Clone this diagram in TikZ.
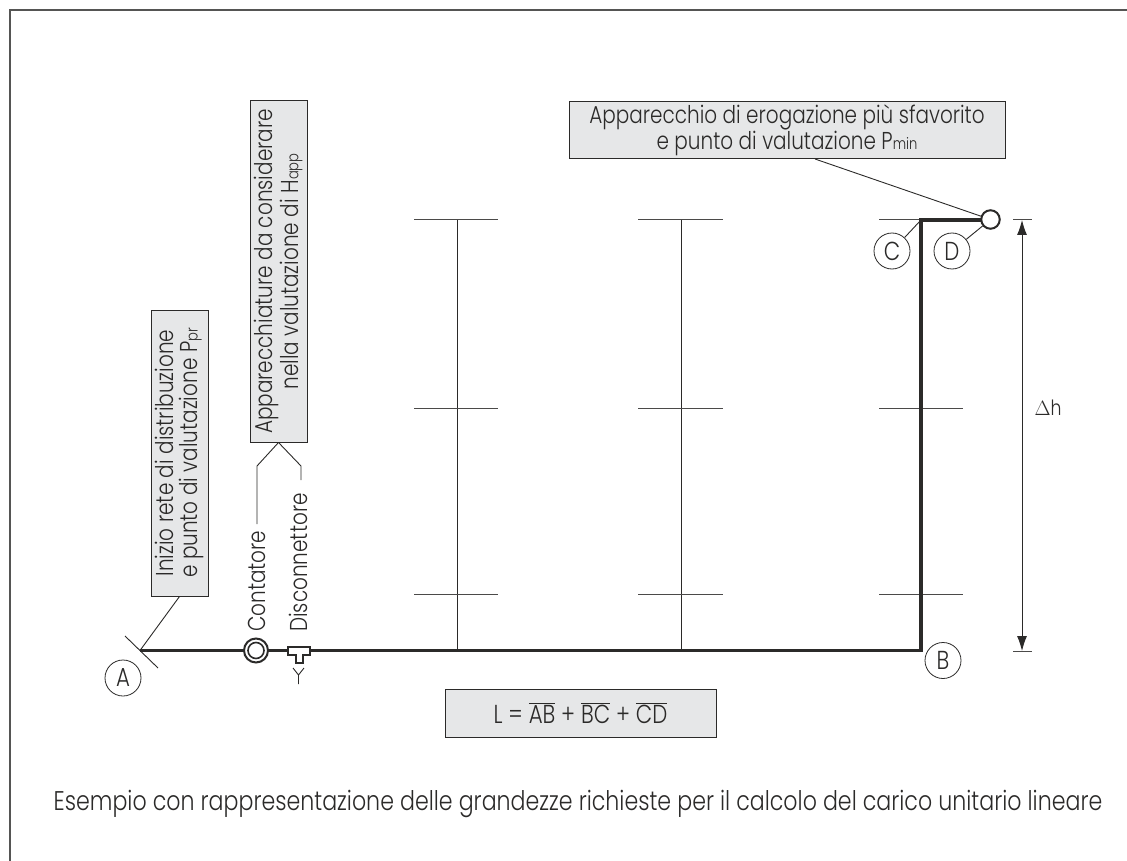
\documentclass[tikz,border=0pt]{standalone}
\usepackage{fontspec}
\setmainfont[FakeStretch=0.82]{Poppins Light}
\usetikzlibrary{arrows.meta}
\definecolor{boxgray}{HTML}{E6E7E8}
\definecolor{ink}{HTML}{2B2A29}
\tikzset{
  graybox/.style={draw=ink,line width=1pt,fill=boxgray,inner sep=0pt,align=center,font=\fontsize{24.4}{24}\selectfont,text=ink},
  thin line/.style={draw=ink,line width=0.9pt},
  mid line/.style={draw=ink!85,line width=1pt},
  pipe/.style={draw=ink,line width=3.4pt},
  letter/.style={draw=ink,circle,line width=0.8pt,minimum size=36pt,inner sep=0pt,font=\fontsize{26}{26}\selectfont,text=ink},
  label text/.style={text=ink,inner sep=0pt,font=\fontsize{24.4}{24}\selectfont,rotate=90,anchor=base west},
}
\newcommand{\lowtxt}[1]{{\fontsize{16}{16}\selectfont #1}}
\begin{document}
\begin{tikzpicture}[x=1pt,y=-1pt]
\useasboundingbox (0,0) rectangle (1127,861);
\draw[draw=ink!80,line width=1.5pt] (10,861) -- (10,10) -- (1127,10);
% coordinates
\coordinate (A0) at (140,650.5);
\coordinate (Bc) at (921,650.5);
\coordinate (Cc) at (921,220);
\coordinate (TA1) at (125,636);
\coordinate (TA2) at (158,668);
% verticals & branches
\foreach \x/\l/\r in {457/414/498,681/638/723}{
  \draw[thin line] (\x,220) -- (\x,650);
  \foreach \y in {220,408,594.5}{\draw[mid line] (\l,\y) -- (\r,\y);}
}
\foreach \y in {408,594.5}{\draw[mid line] (879,\y) -- (963,\y);}
\draw[mid line] (879,220) -- (921,220);
% pipe
\draw[pipe,line join=miter] (A0) -- (Bc) -- (Cc) -- (982,220);
\draw[thin line] (TA1) -- (TA2);
% contatore
\node[draw=ink,line width=2pt,circle,fill=white,minimum size=24pt,inner sep=0pt] (cont) at (256,650.5) {};
\node[draw=ink,line width=1.6pt,circle,fill=white,minimum size=16pt,inner sep=0pt] (conti) at (256,650.5) {};
% disconnettore
\draw[draw=ink,line width=1.7pt,fill=white] (288,647) -- (310,647) -- (310,655) -- (303,655) -- (303,663) -- (296,663) -- (296,655) -- (288,655) -- cycle;
\draw[thin line] (298.5,684) -- (298.5,675) (293,668) -- (298.5,675) -- (304,668);
% end circle
\node[draw=ink,line width=2pt,circle,fill=white,minimum size=18.5pt,inner sep=0pt] (Dc) at (990.5,219.5) {};
% letters
\node[letter] (A) at (123,678) {A};
\node[letter] (B) at (943,660.5) {B};
\node[letter] (C) at (892,251) {C};
\node[letter] (D) at (952,251) {D};
\draw[thin line] (C) -- (Cc);
\draw[thin line] (D) -- (Dc);
% boxes
\node[graybox,rotate=90,minimum width=286pt,minimum height=57pt] (box1) at (179.5,453) {Inizio rete di distribuzione\\e punto di valutazione P\lowtxt{pr}};
\node[graybox,rotate=90,minimum width=341pt,minimum height=57pt] (box2) at (278.5,271.5) {Apparecchiature da considerare\\nella valutazione di H\lowtxt{app}};
\node[graybox,minimum width=436pt,minimum height=57pt] (box3) at (787,130.5) {Apparecchio di erogazione più sfavorito\\e punto di valutazione P\lowtxt{min}};
\node[graybox,minimum width=271pt,minimum height=48pt,font=\fontsize{26}{26}\selectfont] (box4) at (580.5,713) {L = $\overline{\hbox{AB}}$ + $\overline{\hbox{BC}}$ + $\overline{\hbox{CD}}$};
% connectors
\draw[thin line] (box1.west) -- (A0);
\draw[thin line] (box2.west) -- (257,466) -- (257,524);
\draw[thin line] (box2.west) -- (301,466) -- (301,480);
\draw[thin line] (815,159) -- (Dc);
% labels
\node[label text] (lc) at (265,632) {Contatore};
\node[label text] (ld) at (307,632) {Disconnettore};
% dimension
\coordinate (d1) at (1022,220);
\coordinate (d2) at (1022,651);
\draw[mid line] (1013,220) -- (1032,220) (1013,651) -- (1032,651);
\draw[thin line,{Latex[length=15pt,width=10pt]}-{Latex[length=15pt,width=10pt]}] (d1) -- (d2);
\node[text=ink,inner sep=0pt,font=\fontsize{21}{21}\selectfont] (dh) at (1048,408) {$\Delta$h};
% caption
\node[text=ink,inner sep=0pt,anchor=base,font=\fontsize{27}{27}\selectfont] (cap) at (578,810) {Esempio con rappresentazione delle grandezze richieste per il calcolo del carico unitario lineare};
\end{tikzpicture}
\end{document}
